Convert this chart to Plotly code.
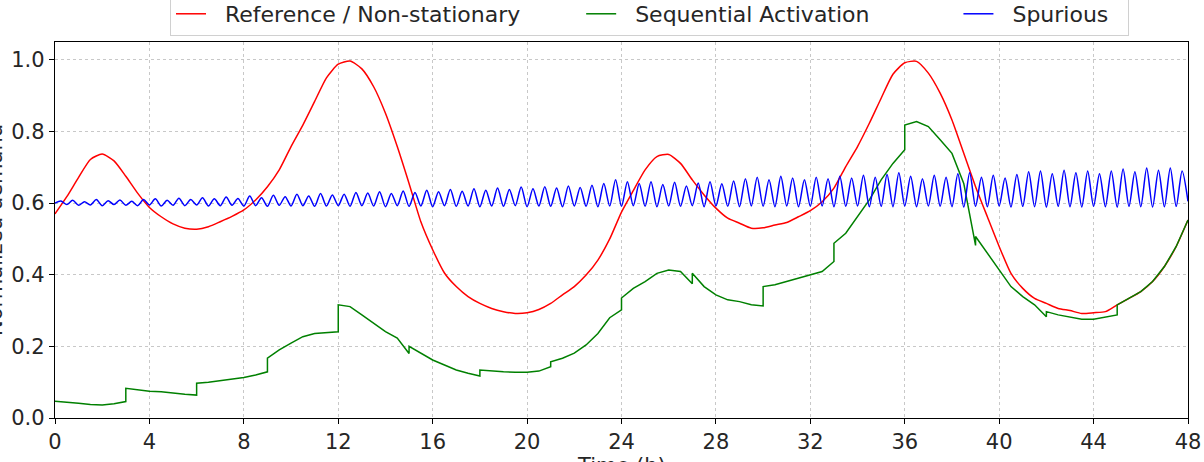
import numpy as np
import plotly.graph_objects as go

# ---------------- data ----------------
red_step = 0.5  # hours between reference samples
red_values = [
    0.570, 0.618, 0.672, 0.722, 0.737, 0.718, 0.675, 0.628, 0.588, 0.562,
    0.542, 0.530, 0.527, 0.534, 0.548, 0.563, 0.581, 0.609, 0.646, 0.693,
    0.758, 0.818, 0.884, 0.950, 0.988, 0.997, 0.975, 0.925, 0.851, 0.758,
    0.655, 0.548, 0.470, 0.405, 0.367, 0.339, 0.320, 0.306, 0.297, 0.292,
    0.294, 0.303, 0.320, 0.344, 0.367, 0.399, 0.441, 0.500, 0.575, 0.635,
    0.693, 0.730, 0.736, 0.711, 0.665, 0.623, 0.586, 0.558, 0.544, 0.530,
    0.531, 0.539, 0.546, 0.562, 0.579, 0.604, 0.642, 0.702, 0.758, 0.823,
    0.893, 0.960, 0.992, 0.996, 0.963, 0.907, 0.832, 0.739, 0.646, 0.562,
    0.479, 0.404, 0.362, 0.334, 0.320, 0.306, 0.300, 0.292, 0.294, 0.297,
    0.316, 0.334, 0.353, 0.381, 0.423, 0.479, 0.553,
]

# Sequential activation: one list per 3-hour block, sampled every 0.5 h
green_block_hours = 3.0
green_blocks = [
    [0.047, 0.043, 0.041, 0.038, 0.036, 0.040, 0.046],
    [0.083, 0.078, 0.075, 0.073, 0.069, 0.066, 0.064],
    [0.097, 0.100, 0.104, 0.108, 0.113, 0.120, 0.129],
    [0.167, 0.190, 0.209, 0.227, 0.236, 0.239, 0.241],
    [0.316, 0.311, 0.288, 0.264, 0.241, 0.223, 0.180],
    [0.200, 0.181, 0.162, 0.148, 0.134, 0.125, 0.117],
    [0.134, 0.131, 0.129, 0.128, 0.128, 0.131, 0.143],
    [0.157, 0.167, 0.181, 0.204, 0.236, 0.280, 0.302],
    [0.335, 0.362, 0.381, 0.404, 0.413, 0.409, 0.375],
    [0.404, 0.367, 0.344, 0.330, 0.325, 0.316, 0.313],
    [0.367, 0.372, 0.381, 0.390, 0.399, 0.409, 0.437],
    [0.488, 0.516, 0.562, 0.609, 0.665, 0.711, 0.749],
    [0.818, 0.828, 0.814, 0.777, 0.739, 0.655, 0.482],
    [0.507, 0.460, 0.413, 0.367, 0.339, 0.316, 0.283],
    [0.297, 0.288, 0.281, 0.276, 0.276, 0.281, 0.288],
    [0.316, 0.334, 0.353, 0.381, 0.423, 0.479, 0.553],
]

# Spurious oscillation: troughs every 0.5 h (t = 0, 0.5, ...), peaks in between
blue_half_period = 0.25
blue_troughs = [
    0.600, 0.596, 0.594, 0.595, 0.593, 0.596, 0.594, 0.593, 0.595, 0.592,
    0.594, 0.593, 0.595, 0.592, 0.593, 0.594, 0.592, 0.593, 0.591, 0.594,
    0.592, 0.593, 0.591, 0.592, 0.593,
    0.591, 0.593, 0.592, 0.590, 0.593, 0.591, 0.592, 0.590, 0.593, 0.591,
    0.592, 0.590, 0.592, 0.591, 0.593, 0.590, 0.592, 0.591, 0.590, 0.592,
    0.591, 0.590, 0.592, 0.591,
    0.593, 0.591, 0.590, 0.592, 0.591, 0.593, 0.590, 0.592, 0.591, 0.590,
    0.592, 0.591, 0.590, 0.592, 0.590, 0.591, 0.592, 0.590, 0.591, 0.592,
    0.590, 0.591, 0.590, 0.592,
    0.590, 0.592, 0.591, 0.590, 0.589, 0.591, 0.590, 0.592, 0.589, 0.591,
    0.590, 0.589, 0.591, 0.590, 0.589, 0.591, 0.590, 0.589, 0.591, 0.590,
    0.589, 0.590, 0.591, 0.605,
]
blue_peaks = [
    0.606, 0.608, 0.604, 0.610, 0.607, 0.609, 0.605, 0.610, 0.612, 0.608,
    0.614, 0.610, 0.615, 0.612, 0.617, 0.613, 0.620, 0.615, 0.622, 0.618,
    0.625, 0.620, 0.627, 0.623,
    0.625, 0.630, 0.628, 0.632, 0.627, 0.634, 0.630, 0.636, 0.632, 0.638,
    0.633, 0.640, 0.636, 0.642, 0.638, 0.645, 0.640, 0.646, 0.642, 0.648,
    0.644, 0.650, 0.655, 0.665,
    0.660, 0.655, 0.660, 0.652, 0.658, 0.648, 0.656, 0.660, 0.654, 0.662,
    0.668, 0.672, 0.665, 0.675, 0.670, 0.665, 0.672, 0.668, 0.675, 0.670,
    0.678, 0.672, 0.680, 0.685,
    0.675, 0.668, 0.678, 0.672, 0.682, 0.685, 0.672, 0.678, 0.670, 0.680,
    0.688, 0.690, 0.682, 0.692, 0.685, 0.690, 0.682, 0.690, 0.695, 0.688,
    0.698, 0.692, 0.698, 0.690,
]

x_ticks = [0, 4, 8, 12, 16, 20, 24, 28, 32, 36, 40, 44, 48]
y_ticks = [0.0, 0.2, 0.4, 0.6, 0.8, 1.0]
series_names = ["Reference / Non-stationary", "Sequential Activation", "Spurious"]

# ---------------- build series ----------------
red_t = np.arange(len(red_values)) * red_step

green_t, green_v = [], []
for k, blk in enumerate(green_blocks):
    tt = np.linspace(k * green_block_hours, (k + 1) * green_block_hours, len(blk))
    green_t.extend(tt.tolist())
    green_v.extend(blk)

blue_v = []
for i in range(len(blue_peaks)):
    blue_v.append(blue_troughs[i])
    blue_v.append(blue_peaks[i])
blue_v.append(blue_troughs[-1])
blue_t = np.arange(len(blue_v)) * blue_half_period

FONT = "DejaVu Sans"
TXT = "#262626"
NB = "\u00a0"
# non-breaking padding spreads the legend columns like the reference
legend_labels = [NB * 2 + series_names[0] + NB * 8,
                 NB * 2 + series_names[1] + NB * 12,
                 NB * 2 + series_names[2] + NB * 2]

fig = go.Figure()
fig.add_trace(go.Scatter(x=red_t, y=red_values, mode="lines", name=legend_labels[0],
                         line=dict(color="#ff0000", width=1.5, shape="spline", smoothing=0.6)))
fig.add_trace(go.Scatter(x=green_t, y=green_v, mode="lines", name=legend_labels[1],
                         line=dict(color="#008000", width=1.5)))
fig.add_trace(go.Scatter(x=blue_t, y=blue_v, mode="lines", name=legend_labels[2],
                         line=dict(color="#0000ff", width=1.5, shape="spline", smoothing=0.8)))

axis_common = dict(
    showline=True, mirror=True, linecolor="#000000", linewidth=1.3,
    ticks="outside", ticklen=5, tickwidth=1.2, tickcolor="#000000",
    showgrid=True, gridcolor="#c8c8c8", gridwidth=1, griddash="3px,3px",
    zeroline=False, automargin=False,
    tickfont=dict(family=FONT, size=21, color=TXT),
)

fig.update_layout(
    width=1204, height=462,
    margin=dict(l=55, r=16, t=42, b=44, autoexpand=False),
    plot_bgcolor="white", paper_bgcolor="white",
    font=dict(family=FONT, color=TXT),
    xaxis=dict(range=[0, 48], tickvals=x_ticks, **axis_common),
    yaxis=dict(range=[0, 1.05], tickvals=y_ticks, tickformat=".1f", **axis_common),
    legend=dict(orientation="h", x=0.1015, xanchor="left", y=1.016, yanchor="bottom",
                font=dict(family=FONT, size=22, color=TXT),
                bordercolor="#d0d0d0", borderwidth=1, bgcolor="white"),
    showlegend=True,
    annotations=[
        dict(text="Time (h)", x=0.5, y=-0.09, xref="paper", yref="paper",
             xanchor="center", yanchor="top", showarrow=False,
             font=dict(family=FONT, size=21, color=TXT)),
        dict(text="Normalized demand", x=-0.053, y=0.5, xref="paper", yref="paper",
             xanchor="center", yanchor="middle", textangle=-90, showarrow=False,
             font=dict(family=FONT, size=21, color=TXT)),
    ],
)

fig.write_html("out.html")
